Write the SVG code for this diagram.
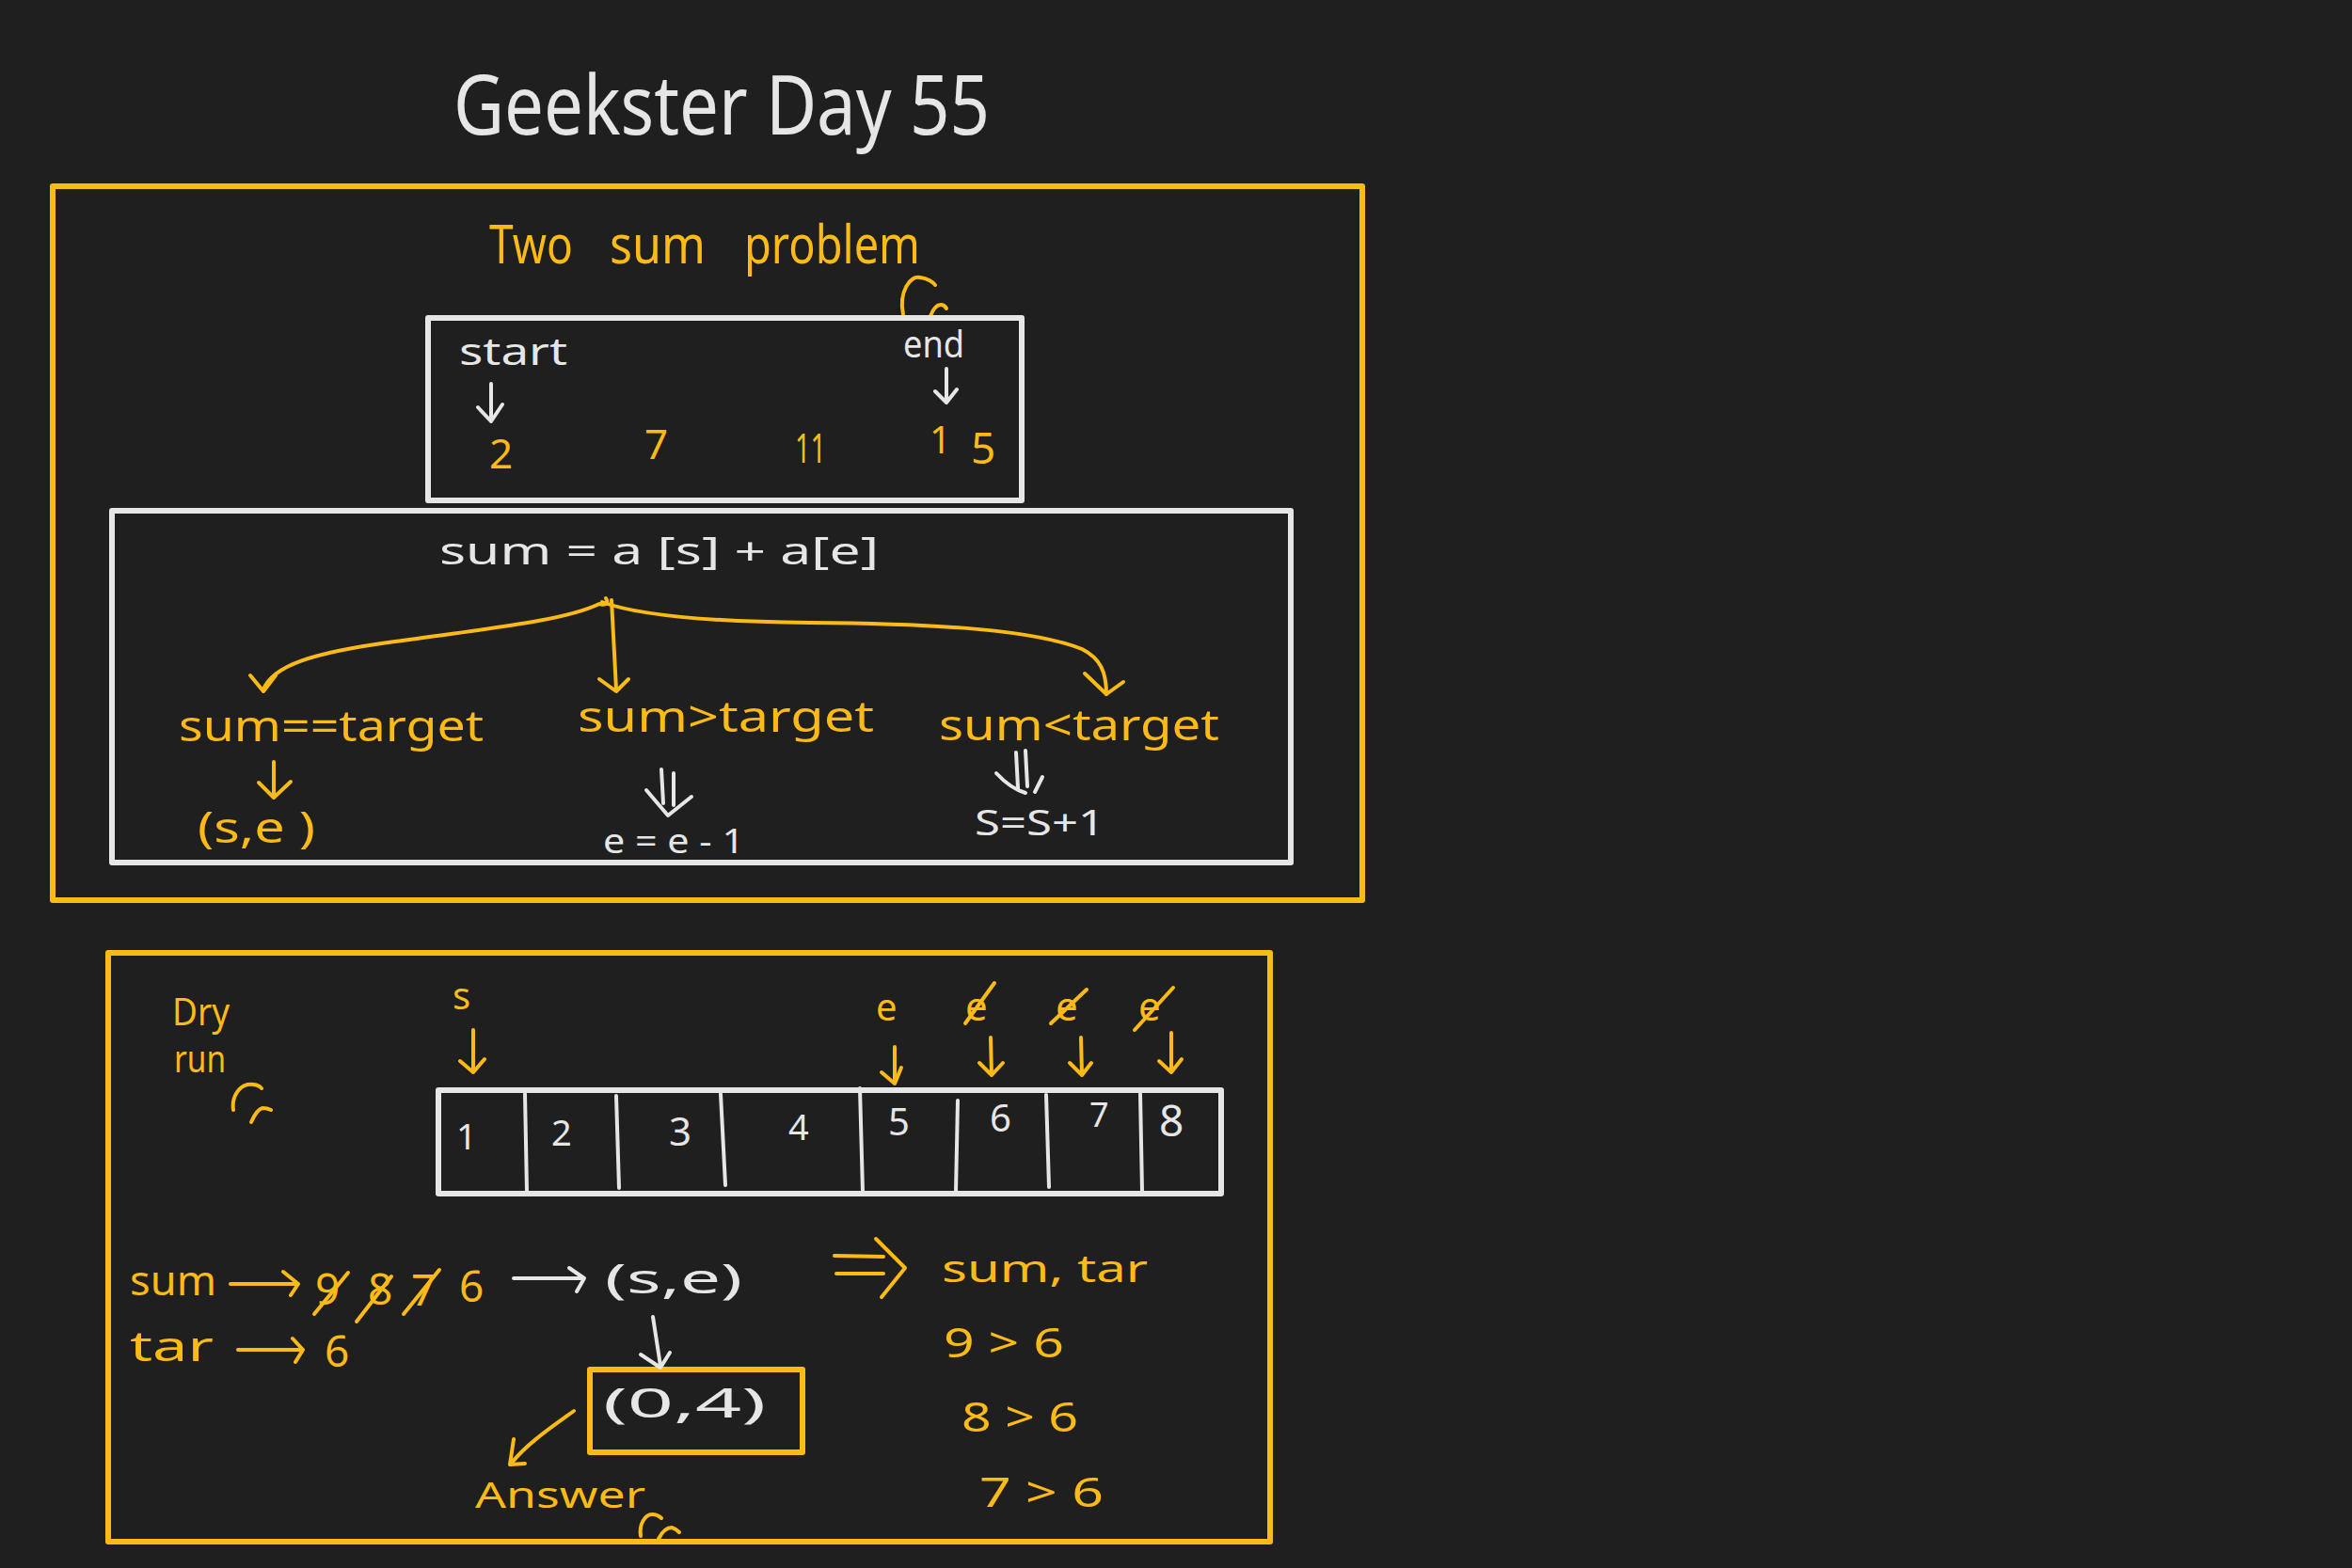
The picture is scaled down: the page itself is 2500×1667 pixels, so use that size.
<svg xmlns="http://www.w3.org/2000/svg" width="2500" height="1667" viewBox="0 0 2500 1667">
<defs>
<style>
.y{fill:#FBBA16}
.w{fill:#E6E6E6}
text{font-family:"Noto Sans","Liberation Sans",sans-serif}
.ys{fill:none;stroke:#FBBA16;stroke-width:4;stroke-linecap:round;stroke-linejoin:round}
.ws{fill:none;stroke:#E6E6E6;stroke-width:4;stroke-linecap:round;stroke-linejoin:round}
.yb{fill:none;stroke:#FBBA16;stroke-width:6;stroke-linejoin:round}
.wb{fill:none;stroke:#E6E6E6;stroke-width:6;stroke-linejoin:round}
</style>
</defs>
<rect width="2500" height="1667" fill="#1F1F1F"/>

<g id="title">
<text class="w" x="482" y="143" font-size="88" textLength="570" lengthAdjust="spacingAndGlyphs">Geekster Day 55</text>
</g>

<g id="panel-two-sum">
<rect class="yb" x="56" y="198" width="1392" height="759"/>
<text class="y" x="520" y="280" font-size="56" textLength="89" lengthAdjust="spacingAndGlyphs">Two</text>
<text class="y" x="648" y="280" font-size="56" textLength="102" lengthAdjust="spacingAndGlyphs">sum</text>
<text class="y" x="791" y="280" font-size="56" textLength="187" lengthAdjust="spacingAndGlyphs">problem</text>
<path class="ys" d="M960 334 C955 310 968 292 978 295 C986 296 992 300 994 303"/>
<path class="ys" d="M989 336 C992 328 996 324 1000 324 C1003 324 1005 326 1006 328"/>
</g>

<g id="array-box">
<rect class="wb" x="455" y="338" width="631" height="194"/>
<text class="w" x="488" y="388" font-size="40" textLength="115" lengthAdjust="spacingAndGlyphs">start</text>
<text class="w" x="960" y="380" font-size="40" textLength="65" lengthAdjust="spacingAndGlyphs">end</text>
<text class="y" x="520" y="498" font-size="44">2</text>
<text class="y" x="685" y="488" font-size="44">7</text>
<text class="y" x="845" y="492" font-size="44" textLength="33" lengthAdjust="spacingAndGlyphs">11</text>
<text class="y" x="988" y="482" font-size="40">1</text>
<text class="y" x="1032" y="493" font-size="46">5</text>
</g>

<g id="formula-box">
<rect class="wb" x="119" y="543" width="1253" height="374"/>
<text class="w" x="467" y="600" font-size="40" textLength="467" lengthAdjust="spacingAndGlyphs">sum = a [s] + a[e]</text>
</g>

<g id="case-equal">
<text class="y" x="190" y="788" font-size="46" textLength="324" lengthAdjust="spacingAndGlyphs">sum==target</text>
<text class="y" x="210" y="896" font-size="46" textLength="125" lengthAdjust="spacingAndGlyphs">(s,e )</text>
</g>
<g id="case-greater">
<text class="y" x="614" y="778" font-size="46" textLength="315" lengthAdjust="spacingAndGlyphs">sum&gt;target</text>
<text class="w" x="641" y="907" font-size="36" textLength="150" lengthAdjust="spacingAndGlyphs">e = e - 1</text>
</g>
<g id="case-less">
<text class="y" x="998" y="787" font-size="46" textLength="298" lengthAdjust="spacingAndGlyphs">sum&lt;target</text>
<text class="w" x="1036" y="888" font-size="38" textLength="138" lengthAdjust="spacingAndGlyphs">S=S+1</text>
</g>

<g id="panel-dry-run">
<rect class="yb" x="115" y="1013" width="1235" height="626"/>
<text class="y" x="183" y="1090" font-size="40" textLength="61" lengthAdjust="spacingAndGlyphs">Dry</text>
<text class="y" x="185" y="1140" font-size="40" textLength="55" lengthAdjust="spacingAndGlyphs">run</text>
<path class="ys" d="M248 1180 C246 1166 254 1155 263 1153 C270 1152 276 1154 278 1157"/>
<path class="ys" d="M267 1193 C271 1184 275 1179 279 1178 C283 1178 286 1179 288 1180"/>
</g>

<g id="dry-array">
<rect class="wb" x="466" y="1159" width="832" height="110"/>
<path class="ws" d="M558 1163 L560 1267 M655 1165 L658 1263 M766 1163 L771 1260 M914 1157 L917 1267 M1018 1170 L1016 1267 M1112 1164 L1115 1262 M1212 1163 L1214 1267"/>
<text class="w" x="485" y="1222" font-size="38">1</text>
<text class="w" x="586" y="1218" font-size="38">2</text>
<text class="w" x="711" y="1218" font-size="42">3</text>
<text class="w" x="838" y="1212" font-size="38">4</text>
<text class="w" x="944" y="1207" font-size="40">5</text>
<text class="w" x="1052" y="1203" font-size="40">6</text>
<text class="w" x="1158" y="1198" font-size="36">7</text>
<text class="w" x="1232" y="1208" font-size="46">8</text>
<text class="y" x="481" y="1073" font-size="40">s</text>
<text class="y" x="931" y="1085" font-size="40">e</text>
<text class="y" x="1026" y="1085" font-size="42">e</text>
<path class="ys" d="M1026 1088 L1057 1045"/>
<text class="y" x="1122" y="1085" font-size="42">e</text>
<path class="ys" d="M1117 1088 L1155 1052"/>
<text class="y" x="1210" y="1085" font-size="42">e</text>
<path class="ys" d="M1206 1095 L1247 1050"/>
</g>

<g id="dry-sum">
<text class="y" x="138" y="1377" font-size="44" textLength="92" lengthAdjust="spacingAndGlyphs">sum</text>
<text class="y" x="335" y="1387" font-size="46">9</text>
<path class="ys" d="M334 1397 L370 1353"/>
<text class="y" x="391" y="1387" font-size="46">8</text>
<path class="ys" d="M379 1405 L416 1357"/>
<text class="y" x="437" y="1388" font-size="46">7</text>
<path class="ys" d="M429 1397 L467 1350"/>
<text class="y" x="488" y="1384" font-size="46">6</text>
<text class="w" x="643" y="1375" font-size="44" textLength="146" lengthAdjust="spacingAndGlyphs">(s,e)</text>
<text class="y" x="138" y="1447" font-size="44" textLength="89" lengthAdjust="spacingAndGlyphs">tar</text>
<text class="y" x="345" y="1453" font-size="46">6</text>
</g>

<g id="answer-box">
<rect class="yb" x="627" y="1456" width="226" height="88"/>
<text class="w" x="641" y="1507" font-size="44" textLength="173" lengthAdjust="spacingAndGlyphs">(0,4)</text>
<text class="y" x="505" y="1603" font-size="38" textLength="181" lengthAdjust="spacingAndGlyphs">Answer</text>
<path class="ys" d="M681 1633 C679 1620 686 1610 693 1610 C698 1610 701 1612 703 1614"/>
<path class="ys" d="M700 1636 C704 1628 709 1624 714 1624 C718 1625 720 1627 722 1629"/>
</g>

<g id="comparisons">
<text class="y" x="1001" y="1363" font-size="40" textLength="219" lengthAdjust="spacingAndGlyphs">sum, tar</text>
<text class="y" x="1003" y="1443" font-size="44" textLength="128" lengthAdjust="spacingAndGlyphs">9 &gt; 6</text>
<text class="y" x="1022" y="1522" font-size="44" textLength="124" lengthAdjust="spacingAndGlyphs">8 &gt; 6</text>
<text class="y" x="1041" y="1602" font-size="44" textLength="132" lengthAdjust="spacingAndGlyphs">7 &gt; 6</text>
</g>

<g id="connectors">
<!-- top array arrows (white) -->
<path class="ws" d="M522 408 L522 448 M508 433 L522 448 L534 430"/>
<path class="ws" d="M1006 392 L1006 428 M994 416 L1006 428 L1017 414"/>
<!-- branches (yellow) -->
<path class="ys" d="M644 636 C648 642 642 644 637 642 C600 660 520 668 420 682 C330 694 290 708 280 733"/>
<path class="ys" d="M266 718 L280 735 L293 718"/>
<path class="ys" d="M650 638 L655 733 M637 722 L655 735 L668 722"/>
<path class="ys" d="M640 640 C680 655 760 661 860 662 C1000 663 1100 670 1150 690 C1170 700 1176 715 1176 738"/>
<path class="ys" d="M1153 716 L1176 738 L1194 725"/>
<!-- below cases -->
<path class="ys" d="M291 810 L291 848 M275 832 L291 848 L309 831"/>
<path class="ws" d="M703 818 L705 854 M716 822 L716 856 M687 840 L710 867 L735 847"/>
<path class="ws" d="M1080 800 L1082 838 M1090 798 L1092 836 M1059 822 C1070 834 1080 840 1090 843 M1108 826 L1100 842"/>
<!-- dry-run pointers -->
<path class="ys" d="M503 1095 L503 1140 M489 1128 L503 1140 L515 1126"/>
<path class="ys" d="M951 1113 L951 1152 M937 1140 L951 1152 L958 1135"/>
<path class="ys" d="M1053 1103 L1054 1143 M1041 1130 L1054 1143 L1066 1130"/>
<path class="ys" d="M1149 1103 L1150 1143 M1137 1130 L1150 1143 L1160 1130"/>
<path class="ys" d="M1245 1098 L1245 1140 M1232 1128 L1245 1140 L1256 1126"/>
<!-- sum / tar arrows -->
<path class="ys" d="M245 1365 L317 1365 M301 1352 L317 1365 L309 1377"/>
<path class="ys" d="M253 1435 L322 1435 M311 1423 L322 1435 L314 1448"/>
<path class="ws" d="M546 1359 L621 1359 M605 1348 L621 1359 L613 1373"/>
<path class="ws" d="M694 1400 L702 1452 M681 1440 L702 1454 L712 1438"/>
<path class="ys" d="M610 1500 C585 1518 560 1535 544 1555 M546 1530 L542 1557 L558 1556"/>
<!-- implies -->
<path class="ys" d="M887 1335 L939 1336 M889 1354 L939 1354 M931 1317 L962 1348 L937 1379"/>
</g>
</svg>
